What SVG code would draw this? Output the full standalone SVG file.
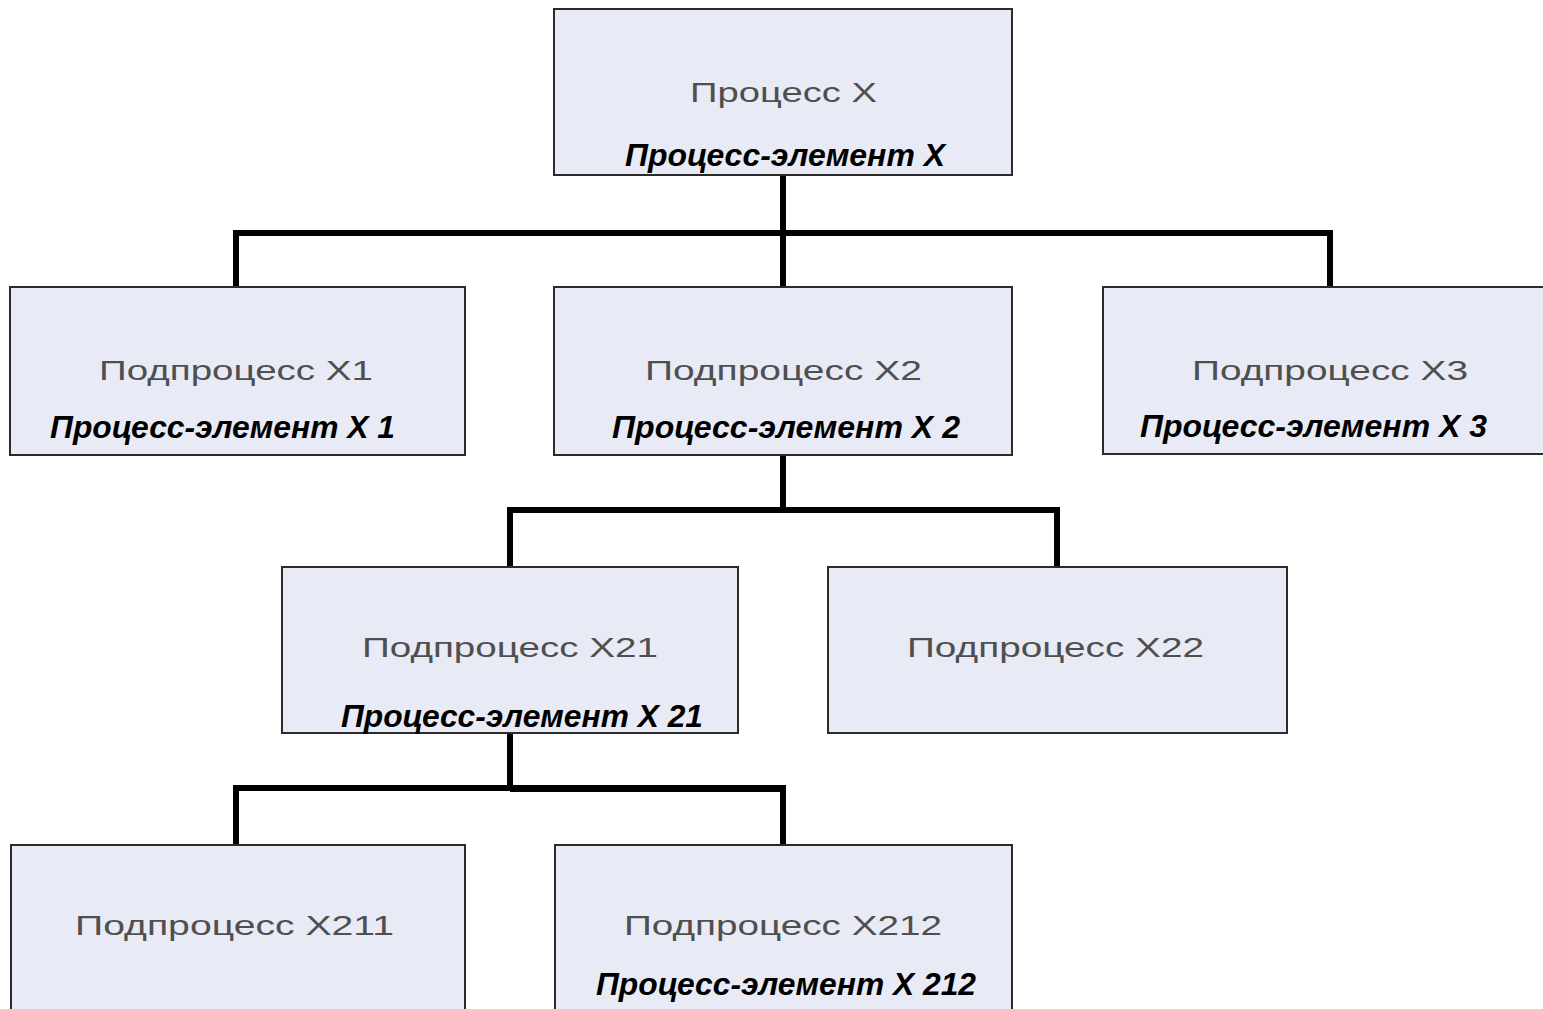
<svg xmlns="http://www.w3.org/2000/svg" width="1543" height="1009" viewBox="0 0 1543 1009">
<style>
.box{fill:#e8ebf5;stroke:#2b2b2b;stroke-width:2}
.t{font-family:"Liberation Sans",Arial,sans-serif;font-size:28px;fill:#4f4f4f;text-anchor:start}
.e{font-family:"Liberation Sans",Arial,sans-serif;font-size:31px;font-weight:bold;font-style:italic;fill:#000;text-anchor:start}
.c{fill:none;stroke:#000;stroke-width:6;stroke-linecap:square}
</style>
<rect width="1543" height="1009" fill="#fff"/>
<g id="connectors">
<path class="c" d="M783 175 V287 M236 287 V233 H1330 V287"/>
<path class="c" d="M783 455 V510 M510 567 V510 H1057 V567"/>
<path class="c" d="M510 733 V788 M236 845 V788 H783 V845"/>
<path d="M510 785 H786 V792 H510 Z" fill="#000"/>
</g>
<g id="n-x">
<rect class="box" x="554" y="9" width="458" height="166"/>
<text class="t" x="690" y="102" textLength="187" lengthAdjust="spacingAndGlyphs">Процесс X</text>
<text class="e" x="625" y="166" textLength="320" lengthAdjust="spacingAndGlyphs">Процесс-элемент X</text>
</g>
<g id="n-x1">
<rect class="box" x="10" y="287" width="455" height="168"/>
<text class="t" x="99" y="380" textLength="274" lengthAdjust="spacingAndGlyphs">Подпроцесс X1</text>
<text class="e" x="50" y="438" textLength="345" lengthAdjust="spacingAndGlyphs">Процесс-элемент X 1</text>
</g>
<g id="n-x2">
<rect class="box" x="554" y="287" width="458" height="168"/>
<text class="t" x="645" y="380" textLength="277" lengthAdjust="spacingAndGlyphs">Подпроцесс X2</text>
<text class="e" x="612" y="438" textLength="348" lengthAdjust="spacingAndGlyphs">Процесс-элемент X 2</text>
</g>
<g id="n-x3">
<rect class="box" x="1103" y="287" width="446" height="167"/>
<text class="t" x="1192" y="380" textLength="276" lengthAdjust="spacingAndGlyphs">Подпроцесс X3</text>
<text class="e" x="1140" y="437" textLength="347" lengthAdjust="spacingAndGlyphs">Процесс-элемент X 3</text>
</g>
<g id="n-x21">
<rect class="box" x="282" y="567" width="456" height="166"/>
<text class="t" x="362" y="657" textLength="296" lengthAdjust="spacingAndGlyphs">Подпроцесс X21</text>
<text class="e" x="341" y="727" textLength="362" lengthAdjust="spacingAndGlyphs">Процесс-элемент X 21</text>
</g>
<g id="n-x22">
<rect class="box" x="828" y="567" width="459" height="166"/>
<text class="t" x="907" y="657" textLength="297" lengthAdjust="spacingAndGlyphs">Подпроцесс X22</text>
</g>
<g id="n-x211">
<rect class="box" x="11" y="845" width="454" height="180"/>
<text class="t" x="75" y="935" textLength="319" lengthAdjust="spacingAndGlyphs">Подпроцесс X211</text>
</g>
<g id="n-x212">
<rect class="box" x="555" y="845" width="457" height="180"/>
<text class="t" x="624" y="935" textLength="318" lengthAdjust="spacingAndGlyphs">Подпроцесс X212</text>
<text class="e" x="596" y="995" textLength="380" lengthAdjust="spacingAndGlyphs">Процесс-элемент X 212</text>
</g>
</svg>
